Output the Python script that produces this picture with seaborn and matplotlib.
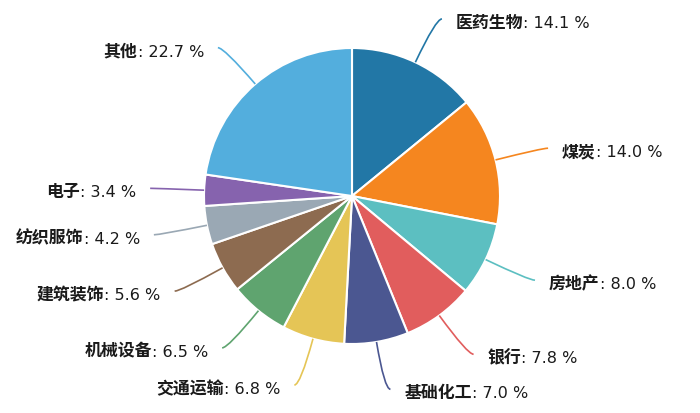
import numpy as np
import matplotlib
matplotlib.use("Agg")
import matplotlib.pyplot as plt
import seaborn as sns
from matplotlib.path import Path
from matplotlib.patches import PathPatch

sns.set_theme(style="white")
plt.rcParams['font.family'] = ['DejaVu Sans', 'Noto Sans CJK SC']

categories = ["医药生物", "煤炭", "房地产", "银行", "基础化工", "交通运输",
              "机械设备", "建筑装饰", "纺织服饰", "电子", "其他"]
values = [14.1, 14.0, 8.0, 7.8, 7.0, 6.8, 6.5, 5.6, 4.2, 3.4, 22.7]
colors = ["#2277a6", "#f5861f", "#5cbfc1", "#e15d5d", "#4b5791", "#e5c556",
          "#5fa46f", "#8d6b50", "#9aa8b4", "#8663ae", "#53aedd"]

W, H = 700, 413
fig = plt.figure(figsize=(W / 100, H / 100), dpi=100)
ax = fig.add_axes([0, 0, 1, 1])
ax.set_axis_off()

cx, cy = 352, H - 196
r = 148
wedges, _ = ax.pie(values, colors=colors, startangle=90, counterclock=False,
                   radius=r, center=(cx, cy),
                   wedgeprops=dict(edgecolor="white", linewidth=1.5))
ax.set_xlim(0, W)
ax.set_ylim(0, H)
ax.set_aspect("equal")

FS_CJK = 12.2
FS_NUM = 11.5
TXT = "#1a1a1a"
R2 = r + 48
len2 = 6
gap = 14
for w, lab, val, col in zip(wedges, categories, values, colors):
    th = np.deg2rad((w.theta1 + w.theta2) / 2)
    c, s = np.cos(th), np.sin(th)
    p0 = (cx + r * c, cy + r * s)
    p1 = (cx + R2 * c, cy + R2 * s)
    sign = 1 if c >= 0 else -1
    p2 = (p1[0] + sign * len2, p1[1])
    path = Path([p0, p1, p2], [Path.MOVETO, Path.CURVE3, Path.CURVE3])
    ax.add_patch(PathPatch(path, facecolor="none", edgecolor=col, lw=1.2))
    tx = p2[0] + sign * gap
    ty = p2[1] - 9
    num = f": {val:.1f} %"
    if sign > 0:
        t1 = ax.text(tx, ty, lab, ha="left", va="baseline", fontsize=FS_CJK,
                     fontweight="bold", color=TXT)
        ax.annotate(num, xy=(1, ty), xycoords=(t1, "data"), ha="left",
                    va="baseline", fontsize=FS_NUM, color=TXT)
    else:
        t2 = ax.text(tx, ty, num, ha="right", va="baseline", fontsize=FS_NUM,
                     color=TXT)
        ax.annotate(lab, xy=(0, ty), xycoords=(t2, "data"), ha="right",
                    va="baseline", fontsize=FS_CJK, fontweight="bold", color=TXT)

fig.savefig("out.png", dpi=100)
